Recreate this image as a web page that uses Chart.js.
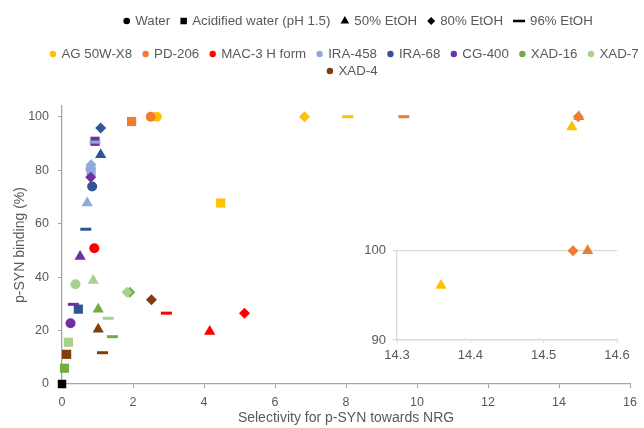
<!DOCTYPE html>
<html>
<head>
<meta charset="utf-8">
<script src="https://cdn.jsdelivr.net/npm/chart.js@4.4.0/dist/chart.umd.min.js"></script>
<style>
  html, body { margin: 0; padding: 0; background: #fff; }
  #wrap { position: relative; width: 644px; height: 428px; }
  #main { position: absolute; left: 0; top: 0; }
  #inset { position: absolute; left: 340px; top: 236px; }
</style>
</head>
<body>
<div id="wrap">
  <canvas id="main" width="644" height="428"></canvas>
  <canvas id="inset" width="300" height="134"></canvas>
</div>
<script>
// resins and solvent conditions
const resins = ['AG 50W-X8', 'PD-206', 'MAC-3 H form', 'IRA-458', 'IRA-68', 'CG-400', 'XAD-16', 'XAD-7', 'XAD-4'];
const resinColors = ['#FFC000', '#ED7D31', '#FF0000', '#8FAADC', '#2F5597', '#7030A0', '#70AD47', '#A9D18E', '#843C0C'];
const conditions = ['Water', 'Acidified water (pH 1.5)', '50% EtOH', '80% EtOH', '96% EtOH'];

// selectivity (x) and p-SYN binding % (y), one value per resin, null = no point
const waterSel  = [2.67, 2.5, 0.91, 0.8, 0.85, 0.24, null, 0.38, null];
const waterBind = [100, 100, 50.8, 80.5, 73.9, 22.7, null, 37.3, null];
const acidSel   = [4.47, 1.96, null, 0.82, 0.46, 0.93, 0.07, 0.18, 0.13];
const acidBind  = [67.7, 98.2, null, 79.5, 28, 90.8, 5.9, 15.6, 11.1];
const eth50Sel  = [14.36, 14.56, 4.16, 0.71, 1.09, 0.51, 1.02, 0.88, 1.02];
const eth50Bind = [96.1, 100, 19.6, 67.7, 85.8, 47.7, 28, 38.7, 20.5];
const eth80Sel  = [6.83, 14.54, 5.14, 0.82, 1.09, 0.81, 1.91, 1.83, 2.52];
const eth80Bind = [100, 100, 26.5, 82, 95.8, 77.3, 34.3, 34.3, 31.5];
const eth96Sel  = [8.05, 9.63, 2.94, 0.93, 0.67, 0.32, 1.42, 1.3, 1.14];
const eth96Bind = [100, 100, 26.5, 90.5, 57.9, 29.8, 17.7, 24.6, 11.7];
// black reference point at the origin
const blankSel  = [0];
const blankBind = [0];

const xTicksMain = [0, 2, 4, 6, 8, 10, 12, 14, 16];
const yTicksMain = [0, 20, 40, 60, 80, 100];
const xTicksInset = [14.3, 14.4, 14.5, 14.6];
const yTicksInset = [90, 100];

const FONT = '"Liberation Sans", Arial, sans-serif';
const TXT = '#595959';
const shapes = ['circle', 'rect', 'triangle', 'rectRot', 'line'];
const radii = [5, 6.5, 6.5, 5.5, 5.5];

const sels = [waterSel, acidSel, eth50Sel, eth80Sel, eth96Sel];
const binds = [waterBind, acidBind, eth50Bind, eth80Bind, eth96Bind];

function makeSet(ci, keep) {
  const pts = [], cols = [];
  sels[ci].forEach((x, i) => {
    const y = binds[ci][i];
    if (x == null || !keep(x, y)) return;
    pts.push({ x, y });
    cols.push(resinColors[i]);
  });
  const isLine = shapes[ci] === 'line';
  return {
    label: conditions[ci],
    data: pts,
    showLine: false,
    pointStyle: shapes[ci],
    pointRadius: radii[ci],
    pointHoverRadius: radii[ci],
    pointBackgroundColor: cols,
    pointBorderColor: cols,
    pointBorderWidth: isLine ? 3 : 0,
    order: 10 - ci,
    clip: false,
  };
}

const blankSet = {
  label: 'blank',
  data: blankSel.map((x, i) => ({ x, y: blankBind[i] })),
  showLine: false,
  pointStyle: 'rect',
  pointRadius: 6,
  pointBackgroundColor: '#000',
  pointBorderWidth: 0,
  order: 0,
  clip: false,
};

// legend rows drawn on the canvas (two separate legends in the original)
function drawRow(ctx, items, cx, cy) {
  const gap = 5, sep = 10;
  const widths = items.map(it => it.mw + gap + ctx.measureText(it.text).width);
  const total = widths.reduce((a, b) => a + b, 0) + sep * (items.length - 1);
  let x = cx - total / 2;
  items.forEach((it, i) => {
    ctx.fillStyle = it.color;
    ctx.strokeStyle = it.color;
    ctx.lineWidth = it.lw || 0;
    Chart.helpers.drawPoint(ctx, { pointStyle: it.shape, radius: it.r, borderWidth: it.lw || 0, rotation: 0 }, x + it.mw / 2, cy);
    ctx.fillStyle = TXT;
    ctx.fillText(it.text, x + it.mw + gap, cy + 0.5);
    x += widths[i] + sep;
  });
}

const legendPlugin = {
  id: 'twoLegends',
  afterDraw(chart) {
    const ctx = chart.ctx;
    ctx.save();
    ctx.font = '13.3px ' + FONT;
    ctx.textBaseline = 'middle';
    ctx.textAlign = 'left';
    const condMarks = [
      { shape: 'circle', r: 3.3, mw: 7 },
      { shape: 'rect', r: 4.6, mw: 7 },
      { shape: 'triangle', r: 5, mw: 9 },
      { shape: 'rectRot', r: 4, mw: 8 },
      { shape: 'line', r: 6, mw: 12, lw: 2.5 },
    ];
    drawRow(ctx, conditions.map((t, i) => Object.assign({ text: t, color: '#000' }, condMarks[i])), 358, 21);
    const resinItems = resins.map((t, i) => ({ text: t, color: resinColors[i], shape: 'circle', r: 3.2, mw: 7 }));
    drawRow(ctx, resinItems.slice(0, 8), 344, 54);
    drawRow(ctx, resinItems.slice(8), 352, 71);
    ctx.restore();
  },
};

function fixTicks(list) {
  return s => { s.ticks = list.map(v => ({ value: v })); };
}

new Chart(document.getElementById('main'), {
  type: 'scatter',
  data: { datasets: [0, 1, 2, 3, 4].map(ci => makeSet(ci, () => true)).concat([blankSet]) },
  plugins: [legendPlugin],
  options: {
    responsive: false,
    animation: false,
    layout: { padding: { top: 106, right: 12, left: 0, bottom: 0 } },
    plugins: { legend: { display: false }, tooltip: { enabled: false } },
    scales: {
      x: {
        type: 'linear', min: 0, max: 16,
        afterBuildTicks: fixTicks(xTicksMain),
        ticks: { color: TXT, font: { size: 12.5, family: FONT }, padding: 7 },
        grid: { drawOnChartArea: false, tickLength: 4, color: '#a6a6a6' },
        border: { color: '#a6a6a6', width: 1.3 },
        title: { display: true, text: 'Selectivity for p-SYN towards NRG', color: TXT, font: { size: 14, family: FONT }, padding: { top: 4, bottom: 1 } },
        afterFit: s => { s.height = 44; },
      },
      y: {
        type: 'linear', min: 0, max: 104,
        afterBuildTicks: fixTicks(yTicksMain),
        ticks: { color: TXT, font: { size: 12.5, family: FONT }, padding: 9 },
        grid: { drawOnChartArea: false, tickLength: 4, color: '#a6a6a6' },
        border: { color: '#a6a6a6', width: 1.3 },
        title: { display: true, text: 'p-SYN binding (%)', color: TXT, font: { size: 14, family: FONT }, padding: { top: 12, bottom: 0 } },
        afterFit: s => { s.width = 62; },
      },
    },
  },
});

// inset: zoom on the high-selectivity points
const inRange = (x, y) => x >= 14.3 && x <= 14.6 && y >= 90 && y <= 100;
new Chart(document.getElementById('inset'), {
  type: 'scatter',
  data: { datasets: [0, 1, 2, 3, 4].map(ci => makeSet(ci, inRange)) },
  options: {
    responsive: false,
    animation: false,
    layout: { padding: { top: 12, right: 23, left: 0, bottom: 0 } },
    plugins: { legend: { display: false }, tooltip: { enabled: false } },
    scales: {
      x: {
        type: 'linear', min: 14.3, max: 14.6,
        afterBuildTicks: fixTicks(xTicksInset),
        ticks: { color: TXT, font: { size: 13, family: FONT }, padding: 5, callback: v => v.toFixed(1) },
        grid: { drawOnChartArea: false, tickLength: 3, color: '#d9d9d9' },
        border: { color: '#d9d9d9', width: 1.3 },
        afterFit: s => { s.height = 30; },
      },
      y: {
        type: 'linear', min: 90, max: 100,
        afterBuildTicks: fixTicks(yTicksInset),
        ticks: { color: TXT, font: { size: 13, family: FONT }, padding: 7 },
        grid: { tickLength: 4, color: '#d9d9d9', lineWidth: 1.3 },
        border: { color: '#d9d9d9', width: 1.3 },
        afterFit: s => { s.width = 57; },
      },
    },
  },
});
</script>
</body>
</html>
